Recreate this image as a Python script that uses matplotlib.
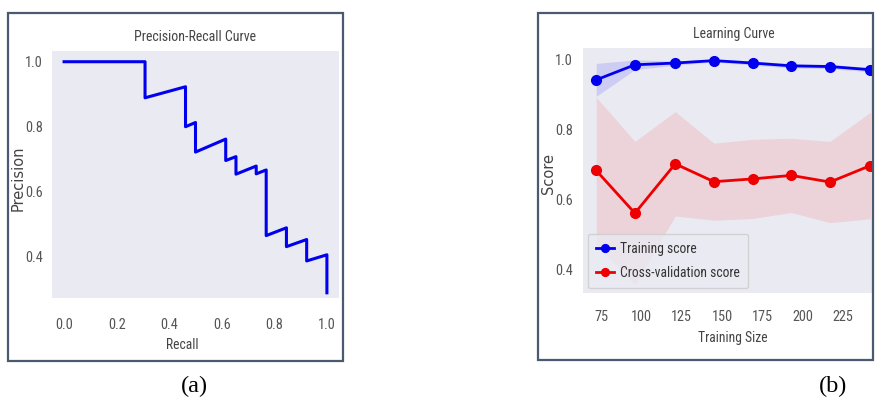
import matplotlib
matplotlib.use("Agg")
import matplotlib.pyplot as plt
from matplotlib import font_manager as fm
from matplotlib.patches import Rectangle

# ---------------- data ----------------
recall = [0.0, 0.308, 0.308, 0.462, 0.462, 0.500, 0.500, 0.615, 0.615, 0.654,
          0.654, 0.731, 0.731, 0.769, 0.769, 0.846, 0.846, 0.923, 0.923, 1.0, 1.0]
precision = [1.0, 1.0, 0.889, 0.923, 0.800, 0.813, 0.722, 0.762, 0.696, 0.708,
             0.654, 0.679, 0.655, 0.667, 0.465, 0.489, 0.431, 0.453, 0.387, 0.406, 0.289]

train_sizes = [72, 96, 121, 145, 169, 193, 217, 242]
train_mean = [0.941, 0.984, 0.989, 0.996, 0.989, 0.981, 0.979, 0.970]
train_std = [0.047, 0.014, 0.006, 0.004, 0.006, 0.006, 0.006, 0.006]
cv_mean = [0.682, 0.560, 0.701, 0.650, 0.658, 0.668, 0.649, 0.696]
cv_std = [0.209, 0.205, 0.149, 0.110, 0.113, 0.106, 0.116, 0.152]

pr_xticks = [0.0, 0.2, 0.4, 0.6, 0.8, 1.0]
pr_yticks = [0.4, 0.6, 0.8, 1.0]
lc_xticks = [75, 100, 125, 150, 175, 200, 225]
lc_yticks = [0.4, 0.6, 0.8, 1.0]

# ---------------- fonts ----------------
names = {f.name for f in fm.fontManager.ttflist}
narrow = 'DejaVu Sans'
for cand in ['Liberation Sans Narrow', 'Roboto Condensed', 'Open Sans Condensed', 'Noto Sans Condensed']:
    if cand in names:
        narrow = cand
        break

W, H = 875, 401
fig = plt.figure(figsize=(W / 100, H / 100), dpi=100)
fig.patch.set_facecolor('white')

bg = '#EAEAF2'
tick_col = '#555555'
label_col = '#444444'


def style(ax):
    ax.set_facecolor(bg)
    for s in ax.spines.values():
        s.set_visible(False)
    ax.tick_params(axis='both', length=0, labelsize=10.3, colors=tick_col)
    for lab in ax.get_xticklabels() + ax.get_yticklabels():
        lab.set_fontfamily(narrow)


def ax_rect(x0, y0, x1, y1):
    return [x0 / W, 1 - y1 / H, (x1 - x0) / W, (y1 - y0) / H]


def border(x0, y0, x1, y1):
    fig.patches.append(Rectangle((x0 / W, 1 - y1 / H), (x1 - x0) / W, (y1 - y0) / H,
                                 transform=fig.transFigure, fill=False,
                                 edgecolor='#4B5A6E', linewidth=1.6, zorder=10))


# ---------------- (a) Precision-Recall ----------------
ax1 = fig.add_axes(ax_rect(52, 51, 339, 298))
ax1.plot(recall, precision, color='#0000EE', linewidth=2.2)
ax1.set_xlim(-0.046, 1.046)
ax1.set_ylim(0.273, 1.033)
ax1.set_xticks(pr_xticks)
ax1.set_yticks(pr_yticks)
ax1.set_xticklabels([f"{v:.1f}" for v in pr_xticks])
ax1.set_yticklabels([f"{v:.1f}" for v in pr_yticks])
style(ax1)
ax1.tick_params(axis='x', pad=14.5)
ax1.tick_params(axis='y', pad=6.5)
ax1.set_title('Precision-Recall Curve', fontsize=10, color=label_col, family=narrow, pad=7.5)
ax1.set_xlabel('Recall', fontsize=9.8, color=label_col, family=narrow)
ax1.xaxis.set_label_coords(0.455, -(345 - 298) / 247)
ax1.xaxis.label.set_va('center')
ax1.set_ylabel('Precision', fontsize=10.5, color=label_col, family='DejaVu Sans')
ax1.yaxis.set_label_coords((18 - 52) / 287, (298 - 178) / 247)
ax1.yaxis.label.set_va('center')

# ---------------- (b) Learning curve ----------------
ax2 = fig.add_axes(ax_rect(583, 48, 884, 293))
tl = [m - s for m, s in zip(train_mean, train_std)]
tu = [m + s for m, s in zip(train_mean, train_std)]
cl = [m - s for m, s in zip(cv_mean, cv_std)]
cu = [m + s for m, s in zip(cv_mean, cv_std)]
ax2.fill_between(train_sizes, tl, tu, color='#0000FF', alpha=0.12, linewidth=0)
ax2.fill_between(train_sizes, cl, cu, color='#FF0000', alpha=0.10, linewidth=0)
ax2.plot(train_sizes, train_mean, 'o-', color='#0000EE', linewidth=2, markersize=7,
         label='Training score')
ax2.plot(train_sizes, cv_mean, 'o-', color='#EE0000', linewidth=2, markersize=7,
         label='Cross-validation score')
ax2.set_xlim(63.8, 250.5)
ax2.set_ylim(0.332, 1.032)
ax2.set_xticks(lc_xticks)
ax2.set_yticks(lc_yticks)
ax2.set_yticklabels([f"{v:.1f}" for v in lc_yticks])
style(ax2)
ax2.tick_params(axis='x', pad=12)
ax2.tick_params(axis='y', pad=7.2)
ax2.set_title('Learning Curve', fontsize=10, color=label_col, family=narrow, pad=7)
ax2.set_xlabel('Training Size', fontsize=9.8, color=label_col, family=narrow)
ax2.xaxis.set_label_coords((733 - 583) / 301, -(338 - 293) / 245)
ax2.xaxis.label.set_va('center')
ax2.set_ylabel('Score', fontsize=10.5, color=label_col, family='DejaVu Sans')
ax2.yaxis.set_label_coords((548 - 583) / 301, (293 - 173) / 245)
ax2.yaxis.label.set_va('center')
leg = ax2.legend(loc='lower left', prop={'family': narrow, 'size': 9.8},
                 frameon=True, facecolor=bg, edgecolor='#CCCCCC', framealpha=0.8,
                 handlelength=1.3, handletextpad=0.5, labelspacing=0.75,
                 borderaxespad=0.35, borderpad=0.6, markerscale=0.8)
for t in leg.get_texts():
    t.set_color('#333333')

# white strip beyond right border
fig.patches.append(Rectangle((874 / W, 0), 1, 1, transform=fig.transFigure,
                             facecolor='white', edgecolor='none', zorder=9))

border(8, 13, 343, 361)
border(538, 13, 873, 360)

# captions
fig.text(194 / W, 1 - 386 / H, '(a)', ha='center', va='center', fontsize=17.5,
         family='Liberation Serif', color='black')
fig.text(833 / W, 1 - 386 / H, '(b)', ha='center', va='center', fontsize=17.5,
         family='Liberation Serif', color='black')

fig.savefig('out.png', dpi=100)
